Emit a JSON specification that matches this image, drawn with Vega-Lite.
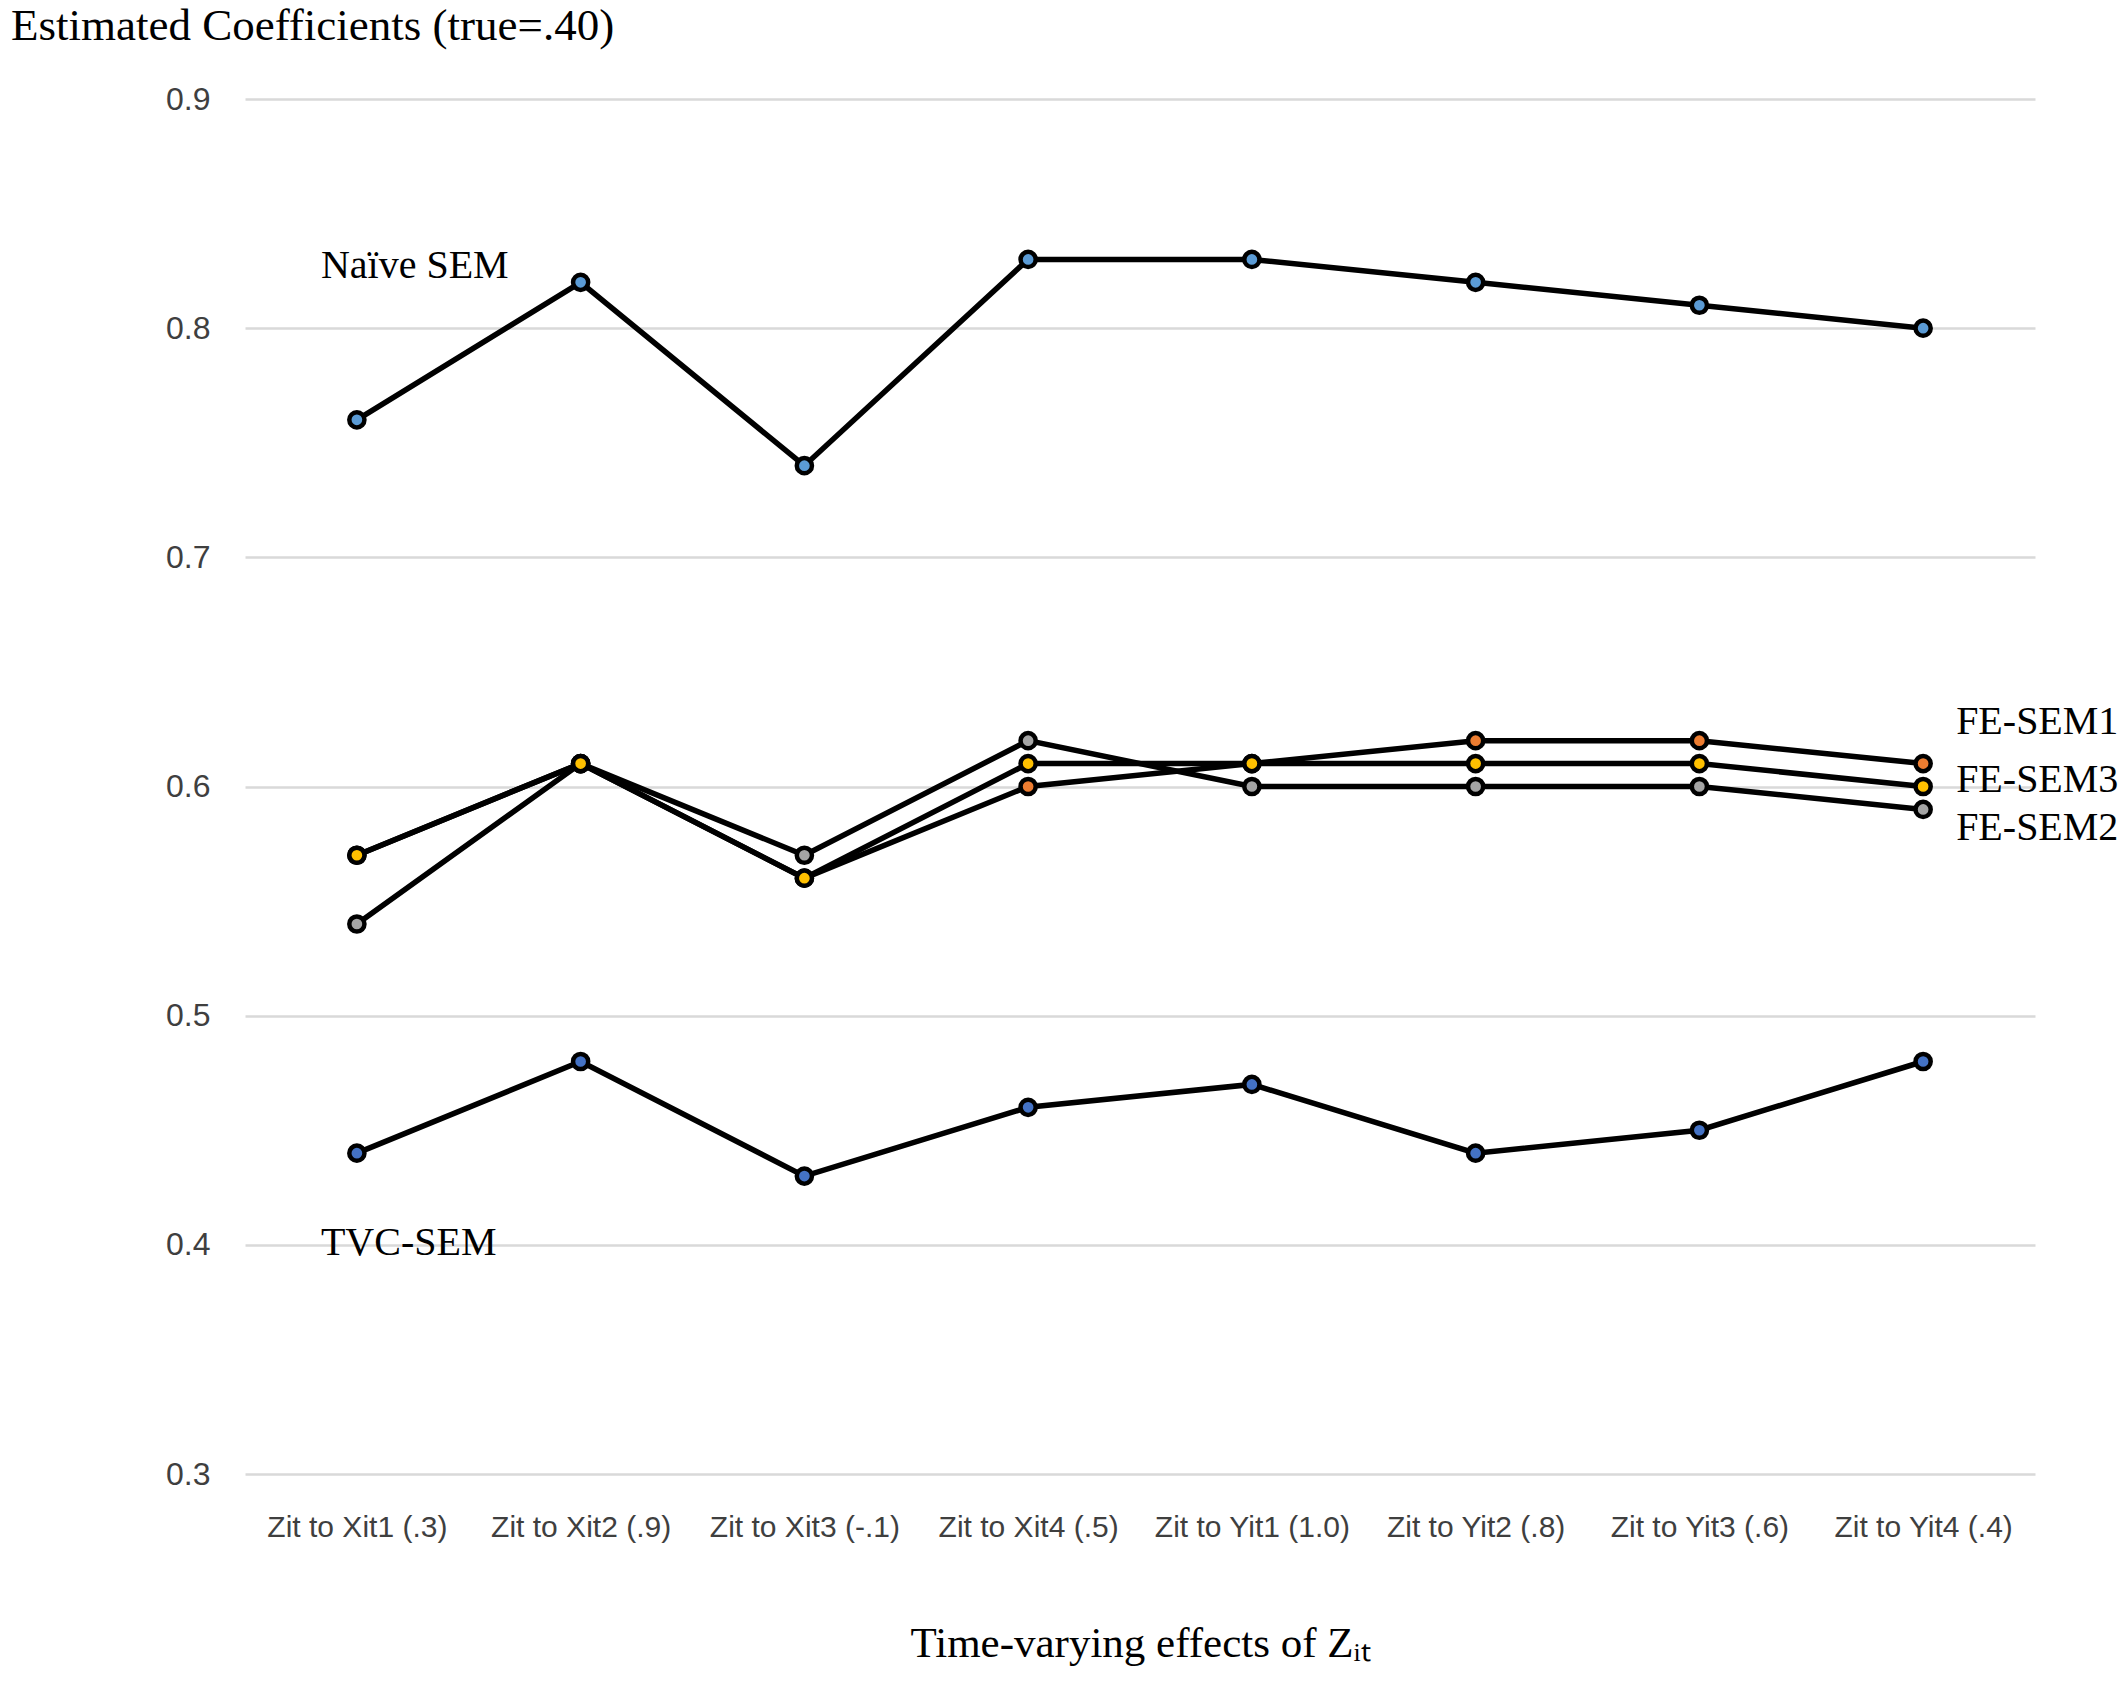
{
  "$schema": "https://vega.github.io/schema/vega-lite/v6.json",
  "width": 1790,
  "height": 1375,
  "autosize": "none",
  "padding": {"left": 245, "top": 99, "right": 91, "bottom": 212},
  "background": "white",
  "title": {
    "text": "Estimated Coefficients (true=.40)",
    "anchor": "start",
    "frame": "group",
    "dx": -234,
    "offset": 34,
    "font": "Liberation Serif",
    "fontSize": 45,
    "fontWeight": "normal",
    "color": "#000000"
  },
  "config": {
    "view": {"stroke": null},
    "axis": {
      "labelFont": "Liberation Sans",
      "labelColor": "#3F3F3F",
      "titleFont": "Liberation Serif",
      "titleFontWeight": "normal",
      "titleColor": "#000000"
    }
  },
  "datasets": {
    "estimates": [
      {"series": "Naïve SEM", "effect": "Zit to Xit1 (.3)", "value": 0.76},
      {"series": "Naïve SEM", "effect": "Zit to Xit2 (.9)", "value": 0.82},
      {"series": "Naïve SEM", "effect": "Zit to Xit3 (-.1)", "value": 0.74},
      {"series": "Naïve SEM", "effect": "Zit to Xit4 (.5)", "value": 0.83},
      {"series": "Naïve SEM", "effect": "Zit to Yit1 (1.0)", "value": 0.83},
      {"series": "Naïve SEM", "effect": "Zit to Yit2 (.8)", "value": 0.82},
      {"series": "Naïve SEM", "effect": "Zit to Yit3 (.6)", "value": 0.81},
      {"series": "Naïve SEM", "effect": "Zit to Yit4 (.4)", "value": 0.80},
      {"series": "TVC-SEM", "effect": "Zit to Xit1 (.3)", "value": 0.44},
      {"series": "TVC-SEM", "effect": "Zit to Xit2 (.9)", "value": 0.48},
      {"series": "TVC-SEM", "effect": "Zit to Xit3 (-.1)", "value": 0.43},
      {"series": "TVC-SEM", "effect": "Zit to Xit4 (.5)", "value": 0.46},
      {"series": "TVC-SEM", "effect": "Zit to Yit1 (1.0)", "value": 0.47},
      {"series": "TVC-SEM", "effect": "Zit to Yit2 (.8)", "value": 0.44},
      {"series": "TVC-SEM", "effect": "Zit to Yit3 (.6)", "value": 0.45},
      {"series": "TVC-SEM", "effect": "Zit to Yit4 (.4)", "value": 0.48},
      {"series": "FE-SEM1", "effect": "Zit to Xit1 (.3)", "value": 0.57},
      {"series": "FE-SEM1", "effect": "Zit to Xit2 (.9)", "value": 0.61},
      {"series": "FE-SEM1", "effect": "Zit to Xit3 (-.1)", "value": 0.56},
      {"series": "FE-SEM1", "effect": "Zit to Xit4 (.5)", "value": 0.60},
      {"series": "FE-SEM1", "effect": "Zit to Yit1 (1.0)", "value": 0.61},
      {"series": "FE-SEM1", "effect": "Zit to Yit2 (.8)", "value": 0.62},
      {"series": "FE-SEM1", "effect": "Zit to Yit3 (.6)", "value": 0.62},
      {"series": "FE-SEM1", "effect": "Zit to Yit4 (.4)", "value": 0.61},
      {"series": "FE-SEM2", "effect": "Zit to Xit1 (.3)", "value": 0.54},
      {"series": "FE-SEM2", "effect": "Zit to Xit2 (.9)", "value": 0.61},
      {"series": "FE-SEM2", "effect": "Zit to Xit3 (-.1)", "value": 0.57},
      {"series": "FE-SEM2", "effect": "Zit to Xit4 (.5)", "value": 0.62},
      {"series": "FE-SEM2", "effect": "Zit to Yit1 (1.0)", "value": 0.60},
      {"series": "FE-SEM2", "effect": "Zit to Yit2 (.8)", "value": 0.60},
      {"series": "FE-SEM2", "effect": "Zit to Yit3 (.6)", "value": 0.60},
      {"series": "FE-SEM2", "effect": "Zit to Yit4 (.4)", "value": 0.59},
      {"series": "FE-SEM3", "effect": "Zit to Xit1 (.3)", "value": 0.57},
      {"series": "FE-SEM3", "effect": "Zit to Xit2 (.9)", "value": 0.61},
      {"series": "FE-SEM3", "effect": "Zit to Xit3 (-.1)", "value": 0.56},
      {"series": "FE-SEM3", "effect": "Zit to Xit4 (.5)", "value": 0.61},
      {"series": "FE-SEM3", "effect": "Zit to Yit1 (1.0)", "value": 0.61},
      {"series": "FE-SEM3", "effect": "Zit to Yit2 (.8)", "value": 0.61},
      {"series": "FE-SEM3", "effect": "Zit to Yit3 (.6)", "value": 0.61},
      {"series": "FE-SEM3", "effect": "Zit to Yit4 (.4)", "value": 0.60}
    ],
    "seriesLabels": [
      {"label": "Naïve SEM", "effect": "Zit to Xit1 (.3)", "value": 0.827, "side": "left"},
      {"label": "TVC-SEM", "effect": "Zit to Xit1 (.3)", "value": 0.401, "side": "left"},
      {"label": "FE-SEM1", "effect": "Zit to Yit4 (.4)", "value": 0.628, "side": "right"},
      {"label": "FE-SEM3", "effect": "Zit to Yit4 (.4)", "value": 0.603, "side": "right"},
      {"label": "FE-SEM2", "effect": "Zit to Yit4 (.4)", "value": 0.582, "side": "right"}
    ]
  },
  "encoding": {
    "x": {
      "field": "effect",
      "type": "ordinal",
      "scale": {
        "type": "point",
        "padding": 0.5,
        "domain": ["Zit to Xit1 (.3)", "Zit to Xit2 (.9)", "Zit to Xit3 (-.1)", "Zit to Xit4 (.5)", "Zit to Yit1 (1.0)", "Zit to Yit2 (.8)", "Zit to Yit3 (.6)", "Zit to Yit4 (.4)"]
      },
      "axis": {
        "title": "Time-varying effects of Zᵢₜ",
        "titleFontSize": 43,
        "titlePadding": 80,
        "labelAngle": 0,
        "labelFontSize": 30,
        "labelLimit": 0,
        "labelPadding": 38,
        "domain": false,
        "ticks": false,
        "grid": false
      }
    },
    "y": {
      "field": "value",
      "type": "quantitative",
      "scale": {"domain": [0.3, 0.9], "nice": false, "zero": false},
      "axis": {
        "title": null,
        "values": [0.3, 0.4, 0.5, 0.6, 0.7, 0.8, 0.9],
        "format": ".1f",
        "labelFontSize": 32,
        "labelPadding": 35,
        "domain": false,
        "ticks": false,
        "grid": true,
        "gridColor": "#D9D9D9",
        "gridWidth": 2.5
      }
    }
  },
  "layer": [
    {
      "data": {"name": "estimates"},
      "mark": {"type": "line", "color": "#000000", "strokeWidth": 5.5},
      "encoding": {"detail": {"field": "series", "type": "nominal"}}
    },
    {
      "data": {"name": "estimates"},
      "mark": {"type": "point", "filled": true, "shape": "circle", "size": 230, "stroke": "#000000", "strokeWidth": 4.5, "opacity": 1},
      "encoding": {
        "fill": {
          "field": "series",
          "type": "nominal",
          "legend": null,
          "scale": {
            "domain": ["Naïve SEM", "TVC-SEM", "FE-SEM1", "FE-SEM2", "FE-SEM3"],
            "range": ["#5B9BD5", "#4472C4", "#ED7D31", "#A5A5A5", "#FFC000"]
          }
        }
      }
    },
    {
      "data": {"name": "seriesLabels"},
      "transform": [{"filter": "datum.side === 'left'"}],
      "mark": {"type": "text", "align": "left", "baseline": "middle", "dx": -36, "font": "Liberation Serif", "fontSize": 40, "color": "#000000"},
      "encoding": {"text": {"field": "label"}}
    },
    {
      "data": {"name": "seriesLabels"},
      "transform": [{"filter": "datum.side === 'right'"}],
      "mark": {"type": "text", "align": "left", "baseline": "middle", "dx": 33, "font": "Liberation Serif", "fontSize": 40, "color": "#000000"},
      "encoding": {"text": {"field": "label"}}
    }
  ]
}
